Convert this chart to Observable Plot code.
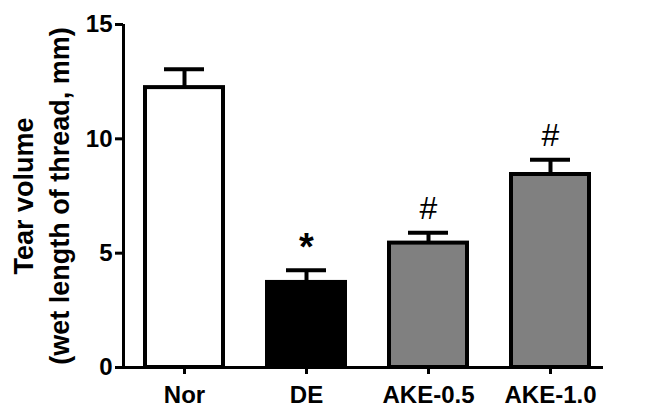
<!DOCTYPE html>
<html>
<head>
<meta charset="utf-8">
<script src="https://cdn.jsdelivr.net/npm/d3@7"></script>
<script src="https://cdn.jsdelivr.net/npm/@observablehq/plot@0.6"></script>
<style>
  html, body { margin: 0; padding: 0; background: #fff; }
</style>
</head>
<body>
<div id="chart"></div>
<script>
const groups = ["Nor", "DE", "AKE-0.5", "AKE-1.0"];
const means = [12.24, 3.72, 5.44, 8.44];
const sems = [0.8, 0.53, 0.45, 0.65];
const signs = ["", "*", "#", "#"];
const fills = ["#ffffff", "#000000", "#808080", "#808080"];
const yTicks = [0, 5, 10, 15];
const yLabel1 = "Tear volume";
const yLabel2 = "(wet length of thread, mm)";

const data = groups.map((g, i) => ({group: g, mean: means[i], top: means[i] + sems[i], sign: signs[i], fill: fills[i]}));

const W = 649, H = 412, ML = 123, MR = 46, MT = 24, MB = 45;
const font = "'Liberation Sans', Arial, Helvetica, sans-serif";

const chart = Plot.plot({
  width: W,
  height: H,
  marginLeft: ML,
  marginRight: MR,
  marginTop: MT,
  marginBottom: MB,
  style: {fontFamily: font, fontSize: "24px", fontWeight: "bold", color: "#000", background: "#fff", overflow: "visible"},
  x: {domain: groups, paddingInner: 0.363, paddingOuter: 0.14, align: 0.61, axis: null},
  y: {domain: [0, 15], axis: null},
  marks: [
    Plot.barY(data, {x: "group", y1: 0, y2: "mean", fill: "fill", stroke: "#000", strokeWidth: 4}),
    Plot.ruleX(data, {x: "group", y1: "mean", y2: "top", stroke: "#000", strokeWidth: 4}),
    Plot.tickY(data, {x: "group", y: "top", stroke: "#000", strokeWidth: 4, insetLeft: 19, insetRight: 19}),
    Plot.text(data.filter(d => d.sign === "*"), {x: "group", y: "top", text: "sign", fontSize: 38, fontWeight: "bold", lineAnchor: "middle", dy: -22, fill: "#000"}),
    Plot.text(data.filter(d => d.sign === "#"), {x: "group", y: "top", text: "sign", fontSize: 32, fontWeight: "normal", lineAnchor: "middle", dy: -24, fill: "#000"}),
    Plot.ruleY([0], {stroke: "#000", strokeWidth: 3}),
    Plot.ruleX([0], {x: null, y1: 0, y2: 15, stroke: "#000", strokeWidth: 3, dx: ML - (ML + (W - MR)) / 2}),
    Plot.axisY({ticks: yTicks, tickSize: 8, tickPadding: 3, strokeWidth: 3, label: null, tickFormat: d => String(d)}),
    Plot.axisX({tickSize: 7, tickPadding: 11, strokeWidth: 3, label: null}),
    Plot.text([yLabel1], {frameAnchor: "left", textAnchor: "middle", text: d => d, rotate: -90, dx: -99, fontSize: 27, fontWeight: "bold", fill: "#000"}),
    Plot.text([yLabel2], {frameAnchor: "left", textAnchor: "middle", text: d => d, rotate: -90, dx: -63, fontSize: 27, fontWeight: "bold", fill: "#000"})
  ]
});
document.getElementById("chart").appendChild(chart);
</script>
</body>
</html>
